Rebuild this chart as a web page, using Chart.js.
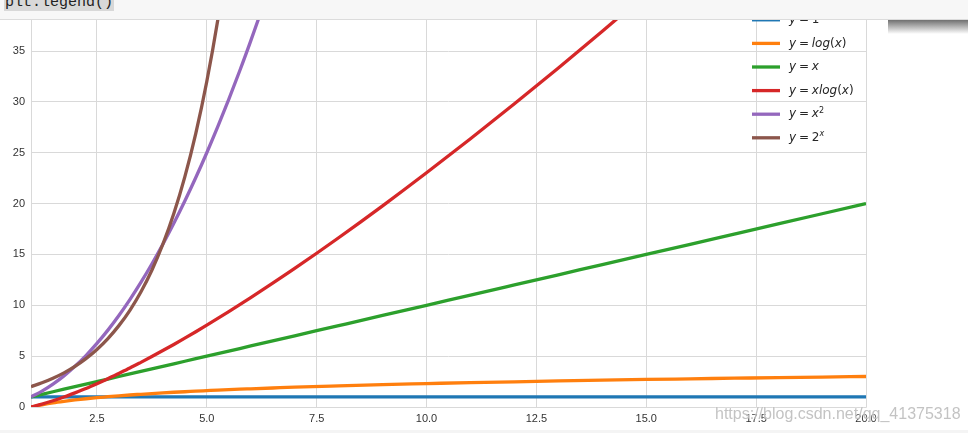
<!DOCTYPE html>
<html>
<head>
<meta charset="utf-8">
<script src="https://cdn.jsdelivr.net/npm/chart.js@4/dist/chart.umd.min.js"></script>
<style>
    html, body { margin: 0; padding: 0; background: #fff; }
    #wrap { position: relative; width: 968px; height: 433px; overflow: hidden; }
    #chart { position: absolute; left: 0; top: 0; }
    #band { position: absolute; left: 0; top: 0; width: 968px; height: 19px; background: #f7f7f7; border-bottom: 1px solid #dcdcdc; z-index: 2; overflow: hidden; }
    #code { position: absolute; left: 4px; top: -5px; height: 16px; padding: 0 1px; background: #d8d8d8; font: 15px "Liberation Mono", "DejaVu Sans Mono", monospace; line-height: 16px; color: #222; }
    #shadow { position: absolute; left: 888px; top: 20px; width: 80px; height: 14px; background: linear-gradient(#707070, #ffffff); z-index: 2; }
    #foot { position: absolute; left: 0; top: 430px; width: 968px; height: 3px; background: #f4f4f4; z-index: 2; }
    #mark { position: absolute; left: 715px; top: 405px; font: 16px "Liberation Sans", Arial, sans-serif; color: rgba(185, 185, 185, 0.85); text-shadow: 0 0 2px #fff; z-index: 3; white-space: nowrap; }
</style>
</head>
<body>
<div id="wrap">
    <canvas id="chart" width="968" height="433"></canvas>
    <div id="band"><span id="code">plt.legend()</span></div>
    <div id="shadow"></div>
    <div id="foot"></div>
    <div id="mark">https://blog.csdn.net/qq_41375318</div>
</div>
<script>
// x sample points
const xs = [1, 1.25, 1.5, 1.75, 2, 2.25, 2.5, 2.75, 3, 3.25, 3.5, 3.75, 4, 4.25, 4.5, 4.75, 5, 5.25, 5.5, 5.75, 6, 6.5, 7, 8, 9, 10, 11, 12, 13, 14, 15, 16, 17, 18, 19, 20];

// series values
const yOne = [1, 1, 1, 1, 1, 1, 1, 1, 1, 1, 1, 1, 1, 1, 1, 1, 1, 1, 1, 1, 1, 1, 1, 1, 1, 1, 1, 1, 1, 1, 1, 1, 1, 1, 1, 1];
const yLog = [0, 0.22, 0.41, 0.56, 0.69, 0.81, 0.92, 1.01, 1.10, 1.18, 1.25, 1.32, 1.39, 1.45, 1.50, 1.56, 1.61, 1.66, 1.70, 1.75, 1.79, 1.87, 1.95, 2.08, 2.20, 2.30, 2.40, 2.48, 2.56, 2.64, 2.71, 2.77, 2.83, 2.89, 2.94, 3.00];
const yLin = [1, 1.25, 1.5, 1.75, 2, 2.25, 2.5, 2.75, 3, 3.25, 3.5, 3.75, 4, 4.25, 4.5, 4.75, 5, 5.25, 5.5, 5.75, 6, 6.5, 7, 8, 9, 10, 11, 12, 13, 14, 15, 16, 17, 18, 19, 20];
const yXLog = [0, 0.28, 0.61, 0.98, 1.39, 1.82, 2.29, 2.78, 3.30, 3.83, 4.39, 4.96, 5.55, 6.15, 6.77, 7.40, 8.05, 8.71, 9.38, 10.06, 10.75, 12.17, 13.62, 16.64, 19.78, 23.03, 26.38, 29.82, 33.34, 36.95, 40.62, 44.36, 48.16, 52.03, 55.94, 59.91];
const ySquare = [1, 1.56, 2.25, 3.06, 4, 5.06, 6.25, 7.56, 9, 10.56, 12.25, 14.06, 16, 18.06, 20.25, 22.56, 25, 27.56, 30.25, 33.06, 36, 42.25, 49, 64, null, null, null, null, null, null, null, null, null, null, null, null];
const yExp = [2, 2.38, 2.83, 3.36, 4, 4.76, 5.66, 6.73, 8, 9.51, 11.31, 13.45, 16, 19.03, 22.63, 26.91, 32, 38.05, 45.25, 53.82, 64, null, null, null, null, null, null, null, null, null, null, null, null, null, null, null];

const labels = ['y = 1', 'y = log(x)', 'y = x', 'y = xlog(x)', 'y = x^2', 'y = 2^x'];
const colors = ['#1f77b4', '#ff7f0e', '#2ca02c', '#d62728', '#9467bd', '#8c564b'];

const xTicks = [2.5, 5, 7.5, 10, 12.5, 15, 17.5, 20];
const yTicks = [0, 5, 10, 15, 20, 25, 30, 35];

const allSeries = [yOne, yLog, yLin, yXLog, ySquare, yExp];
const GRID = '#d9d9d9';
const TEXT = '#333333';

// spines (top one is cut off by the notebook band)
const spines = {
    id: 'spines',
    beforeDatasetsDraw(chart) {
        const { ctx, chartArea: a } = chart;
        ctx.save();
        ctx.strokeStyle = GRID;
        ctx.lineWidth = 1;
        ctx.beginPath();
        ctx.moveTo(a.left + 0.5, a.top);
        ctx.lineTo(a.left + 0.5, a.bottom + 0.5);
        ctx.lineTo(a.right + 0.5, a.bottom + 0.5);
        ctx.lineTo(a.right + 0.5, a.top);
        ctx.stroke();
        ctx.restore();
    }
};

// matplotlib-like legend, no frame, mathtext style labels
function drawMath(ctx, str, x, y) {
    const size = 12;
    for (let i = 0; i < str.length; i++) {
        let ch = str[i];
        let sup = false;
        if (ch === '^') { sup = true; ch = str[++i]; }
        const italic = /[a-z]/i.test(ch);
        const fs = sup ? 8 : size;
        ctx.font = (italic ? 'oblique ' : '') + fs + 'px "DejaVu Sans"';
        ctx.fillText(ch, x, sup ? y - 3.5 : y);
        x += ctx.measureText(ch).width + (ch === ' ' ? -1 : 0);
    }
}

const mplLegend = {
    id: 'mplLegend',
    afterDraw(chart) {
        const ctx = chart.ctx;
        ctx.save();
        labels.forEach((lab, i) => {
            const y = 19.8 + i * 23.6;
            ctx.strokeStyle = colors[i];
            ctx.lineWidth = 3.3;
            ctx.beginPath();
            ctx.moveTo(752, y);
            ctx.lineTo(780, y);
            ctx.stroke();
            ctx.fillStyle = '#262626';
            ctx.textBaseline = 'middle';
            drawMath(ctx, lab, 789, y);
        });
        ctx.restore();
    }
};

new Chart(document.getElementById('chart'), {
    type: 'line',
    data: {
        datasets: allSeries.map((ys, i) => ({
            label: labels[i],
            data: xs.map((x, j) => ({ x: x, y: ys[j] })),
            borderColor: colors[i],
            backgroundColor: colors[i],
            borderWidth: 3.3,
            pointRadius: 0,
            cubicInterpolationMode: 'monotone',
            spanGaps: false,
            order: allSeries.length - i
        }))
    },
    options: {
        responsive: false,
        animation: false,
        layout: { padding: { top: 19, right: 102, left: 0, bottom: 0 } },
        plugins: { legend: { display: false }, tooltip: { enabled: false } },
        scales: {
            x: {
                type: 'linear',
                min: 1,
                max: 20,
                afterBuildTicks: axis => { axis.ticks = xTicks.map(v => ({ value: v })); },
                afterFit: axis => { axis.height = 26; },
                grid: { color: GRID, drawTicks: false },
                border: { display: false },
                ticks: {
                    padding: 5,
                    color: TEXT,
                    maxRotation: 0,
                    font: { family: '"Liberation Sans", Arial, sans-serif', size: 11 },
                    callback: v => v.toFixed(1)
                }
            },
            y: {
                type: 'linear',
                min: 0,
                max: 38.15,
                afterBuildTicks: axis => { axis.ticks = yTicks.map(v => ({ value: v })); },
                afterFit: axis => { axis.width = 31; },
                grid: { color: GRID, drawTicks: false },
                border: { display: false },
                ticks: {
                    padding: 6,
                    color: TEXT,
                    font: { family: '"Liberation Sans", Arial, sans-serif', size: 11 },
                    callback: v => String(v)
                }
            }
        }
    },
    plugins: [spines, mplLegend]
});
</script>
</body>
</html>
